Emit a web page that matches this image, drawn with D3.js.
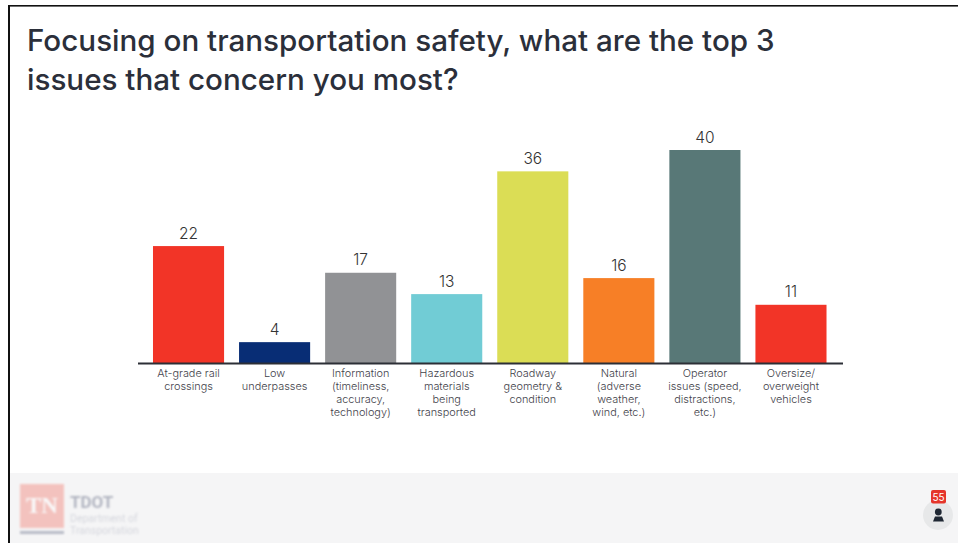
<!DOCTYPE html>
<html>
<head>
<meta charset="utf-8">
<script src="https://cdn.jsdelivr.net/npm/d3@7"></script>
<style>
  html, body { margin: 0; padding: 0; background: #fff; overflow: hidden; }
  svg { display: block; }
</style>
</head>
<body>
<svg id="chart" width="958" height="543"></svg>
<script>
const titleLines = ["Focusing on transportation safety, what are the top 3", "issues that concern you most?"];
const categories = ["At-grade rail crossings", "Low underpasses", "Information (timeliness, accuracy, technology)", "Hazardous materials being transported", "Roadway geometry & condition", "Natural (adverse weather, wind, etc.)", "Operator issues (speed, distractions, etc.)", "Oversize/ overweight vehicles"];
const categoryLines = [
  ["At-grade rail", "crossings"],
  ["Low", "underpasses"],
  ["Information", "(timeliness,", "accuracy,", "technology)"],
  ["Hazardous", "materials", "being", "transported"],
  ["Roadway", "geometry &", "condition"],
  ["Natural", "(adverse", "weather,", "wind, etc.)"],
  ["Operator", "issues (speed,", "distractions,", "etc.)"],
  ["Oversize/", "overweight", "vehicles"]
];
const values = [22, 4, 17, 13, 36, 16, 40, 11];
const barColors = ["#f23427", "#082d75", "#919295", "#71ccd5", "#dbdd55", "#f77f26", "#587877", "#f23427"];

const svg = d3.select("#chart");
const ink = "#2b2f3a";
const sans = "Inter, 'Noto Sans', sans-serif";

// Slide frame: dark rules along the top and left edges
svg.append("rect").attr("x", 8).attr("y", 5).attr("width", 950).attr("height", 538).attr("fill", "#fff");
svg.append("rect").attr("x", 8).attr("y", 5).attr("width", 950).attr("height", 1.6).attr("fill", "#111");
svg.append("rect").attr("x", 8).attr("y", 5).attr("width", 2).attr("height", 538).attr("fill", "#111");

// Footer band
svg.append("rect").attr("x", 10).attr("y", 473).attr("width", 948).attr("height", 70).attr("fill", "#f5f5f6");

// Title
svg.append("g").selectAll("text").data(titleLines).join("text")
  .attr("x", 27)
  .attr("y", (d, i) => 50.5 + i * 39)
  .attr("font-family", sans)
  .attr("font-size", 29.6)
  .attr("font-weight", 500)
  .attr("fill", ink)
  .text(d => d);

// Scales
const x = d3.scaleBand().domain(categories).range([145.5, 834]).paddingInner(0.174).paddingOuter(0.087);
const y = d3.scaleLinear().domain([0, 40]).range([363.5, 150]);

// Bars
svg.append("g").selectAll("rect").data(values).join("rect")
  .attr("x", (d, i) => x(categories[i]))
  .attr("y", d => y(d))
  .attr("width", x.bandwidth())
  .attr("height", d => y(0) - y(d))
  .attr("fill", (d, i) => barColors[i]);

// Value labels
svg.append("g").selectAll("text").data(values).join("text")
  .attr("x", (d, i) => x(categories[i]) + x.bandwidth() / 2)
  .attr("y", d => y(d) - 7.5)
  .attr("text-anchor", "middle")
  .attr("font-family", sans)
  .attr("font-size", 15.5)
  .attr("font-weight", 300)
  .attr("fill", "#333")
  .text(d => d);

// Category axis, with the wrapped labels written line by line
const axis = svg.append("g")
  .attr("transform", `translate(0,${y(0)})`)
  .call(d3.axisBottom(x).tickSize(0).tickFormat(""));
axis.select(".domain").attr("d", "M138,0H843").attr("stroke", "#2c2f36").attr("stroke-width", 2);

const tickLabels = svg.append("g").selectAll("text").data(categoryLines).join("text")
  .attr("text-anchor", "middle")
  .attr("font-family", sans)
  .attr("font-size", 10.9)
  .attr("font-weight", 300)
  .attr("fill", "#3f424a");
tickLabels.each(function (lines, i) {
  d3.select(this).selectAll("tspan").data(lines).join("tspan")
    .attr("x", x(categories[i]) + x.bandwidth() / 2)
    .attr("y", (d, j) => 377 + j * 13)
    .text(d => d);
});

// Department mark in the footer, faded and out of focus
const logo = svg.append("g").attr("opacity", 0.4).style("filter", "blur(0.8px)");
logo.append("rect").attr("x", 20).attr("y", 484).attr("width", 44).attr("height", 44).attr("fill", "#f2786c");
logo.append("rect").attr("x", 20).attr("y", 531).attr("width", 44).attr("height", 3).attr("fill", "#5c6480");
logo.append("text").attr("x", 42).attr("y", 513).attr("text-anchor", "middle")
  .attr("font-family", "'Liberation Serif', serif").attr("font-size", 23).attr("font-weight", 700).attr("fill", "#fff").text("TN");
logo.append("text").attr("x", 70).attr("y", 508)
  .attr("font-family", "Roboto, sans-serif").attr("font-size", 17).attr("font-weight", 700).attr("fill", "#4e5672").text("TDOT");
logo.append("text").attr("x", 70).attr("y", 522)
  .attr("font-family", "Roboto, sans-serif").attr("font-size", 10.5).attr("fill", "#a5a9b8").text("Department of");
logo.append("text").attr("x", 70).attr("y", 534)
  .attr("font-family", "Roboto, sans-serif").attr("font-size", 10.5).attr("fill", "#a5a9b8").text("Transportation");

// Participant button with its count badge
svg.append("circle").attr("cx", 938).attr("cy", 515).attr("r", 15).attr("fill", "#e7e8e9");
svg.append("circle").attr("cx", 938.3).attr("cy", 512).attr("r", 3.4).attr("fill", "#1f2733");
svg.append("path").attr("d", "M933,521.5 L935,516.5 H942 L944,521.5 Z").attr("fill", "#1f2733");
svg.append("rect").attr("x", 931).attr("y", 490).attr("width", 15).attr("height", 13.5).attr("rx", 2).attr("fill", "#e5352b");
svg.append("text").attr("x", 938.5).attr("y", 500.5).attr("text-anchor", "middle")
  .attr("font-family", sans).attr("font-size", 10).attr("fill", "#fff").text("55");
</script>
</body>
</html>
